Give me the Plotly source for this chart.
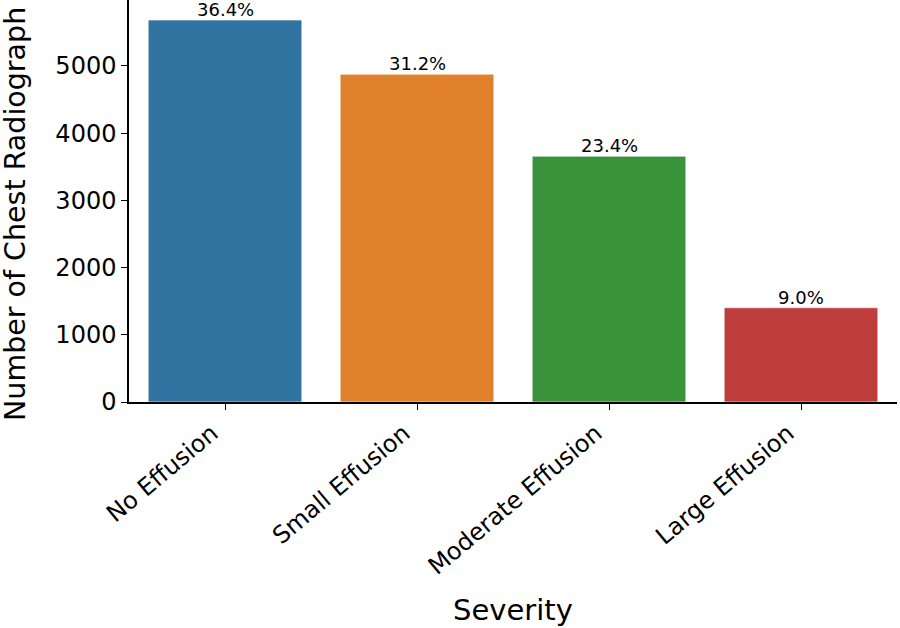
import plotly.graph_objects as go

categories = ["No Effusion", "Small Effusion", "Moderate Effusion", "Large Effusion"]
counts = [5684, 4878, 3657, 1402]
percent_labels = ["36.4%", "31.2%", "23.4%", "9.0%"]
colors = ["#3274a1", "#e1812c", "#3a923a", "#c03d3e"]
y_ticks = [0, 1000, 2000, 3000, 4000, 5000]

fig = go.Figure(go.Bar(
    x=categories, y=counts, width=0.8,
    marker=dict(color=colors, line=dict(color="rgba(255,255,255,0.6)", width=1)),
    hoverinfo="x+y",
))

for cat, val, lab in zip(categories, counts, percent_labels):
    fig.add_annotation(
        x=cat, y=val, text=lab, showarrow=False,
        xanchor="center", yanchor="bottom", yshift=-1, borderpad=0,
        font=dict(family="DejaVu Sans", size=18, color="black"),
    )

fig.add_annotation(
    text="Number of Chest Radiograph", textangle=-90,
    xref="paper", yref="paper", x=-0.147, y=0.468,
    xanchor="center", yanchor="middle", showarrow=False, borderpad=0,
    font=dict(family="DejaVu Sans", size=28.5, color="black"),
)

fig.update_layout(
    width=900, height=628,
    margin=dict(l=129, r=3, t=0, b=226, autoexpand=False),
    plot_bgcolor="white", paper_bgcolor="white",
    font=dict(family="DejaVu Sans", color="black"),
    showlegend=False, bargap=0.2,
)
fig.update_xaxes(
    range=[-0.5, 3.5], tickangle=-40, tickfont=dict(size=24),
    automargin=False, ticklabelshift=-13,
    showline=True, linecolor="black", linewidth=1.5,
    ticks="outside", ticklen=6, tickwidth=1.2, tickcolor="black",
    title=dict(text="Severity", font=dict(size=29), standoff=20),
    showgrid=False,
)
fig.update_yaxes(
    range=[0, 5982], tickvals=y_ticks, tickfont=dict(size=24),
    automargin=False,
    showline=True, linecolor="black", linewidth=1.5,
    ticks="outside", ticklen=6, tickwidth=1.2, tickcolor="black",
    showgrid=False, zeroline=False,
)

fig.write_html("out.html", post_script="document.body.style.margin='0';",
               config={"displayModeBar": False})
